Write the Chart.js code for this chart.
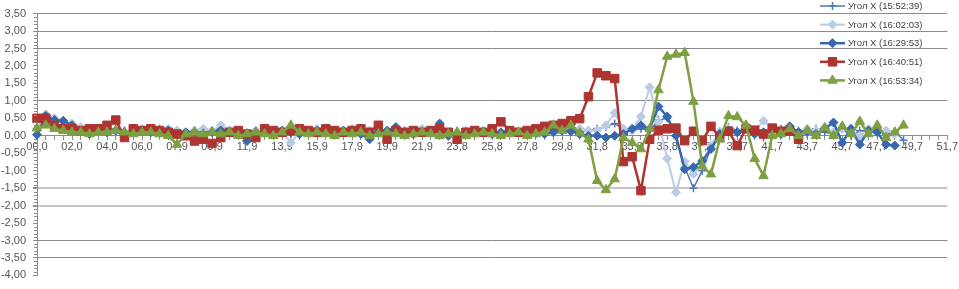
<!DOCTYPE html>
<html>
<head>
<meta charset="utf-8">
<script src="https://cdn.jsdelivr.net/npm/chart.js@4/dist/chart.umd.min.js"></script>
<style>
  body { margin: 0; background: #fff; }
  canvas { display: block; }
</style>
</head>
<body>
<canvas id="angleChart" width="959" height="289"></canvas>
<script>
// time stamps (s) of each sample, shown every 4th
const timeLabels = [
  '00,0','00,5','01,0','01,5','02,0','02,5','03,0','03,5','04,0','04,5',
  '05,0','05,5','06,0','06,4','06,9','07,4','07,9','08,4','08,9','09,4',
  '09,9','10,4','10,9','11,4','11,9','12,4','12,9','13,4','13,9','14,4',
  '14,9','15,4','15,9','16,4','16,9','17,4','17,9','18,4','18,9','19,4',
  '19,9','20,4','20,9','21,4','21,9','22,4','22,9','23,3','23,8','24,3',
  '24,8','25,3','25,8','26,3','26,8','27,3','27,8','28,3','28,8','29,3',
  '29,8','30,3','30,8','31,3','31,8','32,3','32,8','33,3','33,8','34,3',
  '34,8','35,3','35,8','36,2','36,7','37,2','37,7','38,2','38,7','39,2',
  '39,7','40,2','40,7','41,2','41,7','42,2','42,7','43,2','43,7','44,2',
  '44,7','45,2','45,7','46,2','46,7','47,2','47,7','48,2','48,7','49,2',
  '49,7','50,2','50,7','51,2','51,7'
];

const seriesNames = [
  'Угол X (15:52:39)',
  'Угол X (16:02:03)',
  'Угол X (16:29:53)',
  'Угол X (16:40:51)',
  'Угол X (16:53:34)'
];

const angle155239 = [
  0.15,0.35,0.3,0.3,0.25,0.2,0.15,0.15,0.2,0.2,
  0.15,0.1,0.15,0.15,0.2,0.15,0.1,0.1,0.15,0.1,
  0.15,0.2,0.15,0.1,0.05,0.1,0.15,0.1,0.1,0.05,
  0.15,0.1,0.15,0.1,0.15,0.1,0.1,0.15,0.05,0.15,
  0.1,0.1,0.15,0.1,0.1,0.15,0.1,0.05,0.0,0.1,
  0.05,0.1,0.1,0.05,0.1,0.1,0.15,0.05,0.1,0.1,
  0.15,0.15,0.1,0.15,0.2,0.25,0.35,0.2,0.15,0.2,
  0.15,0.45,0.5,0.0,-0.9,-1.5,-1.0,-0.35,0.0,0.25,
  0.15,0.2,0.05,-0.05,0.15,0.2,0.1,0.15,0.05,0.2,
  0.1,0.05,0.2,0.0,0.15,0.1,0.2,0.05,0.13,-0.13,
  null,null,null,null,null
];

const angle160203 = [
  0.2,0.62,0.5,0.4,0.35,0.25,0.2,0.15,0.2,0.15,
  0.1,0.15,0.2,0.15,0.1,0.2,0.15,0.1,0.15,0.2,
  0.15,0.3,0.15,0.1,0.05,0.15,0.2,0.1,0.15,-0.2,
  0.1,0.15,0.2,0.1,0.15,0.1,0.2,0.1,0.15,0.1,
  0.15,0.2,0.1,0.15,0.2,0.1,0.15,0.05,0.1,0.15,
  0.1,0.15,0.1,0.05,0.15,0.1,0.1,0.15,0.1,0.15,
  0.15,0.15,0.2,0.15,0.15,0.3,0.65,0.2,0.15,0.55,
  1.39,0.4,-0.65,-1.62,-0.74,-1.1,-0.8,-0.28,0.13,0.2,
  0.1,0.3,0.15,0.43,0.2,0.1,0.25,0.1,0.2,0.15,
  0.25,0.1,0.2,0.15,0.0,0.2,0.1,0.15,0.05,null,
  null,null,null,null,null
];

const angle162953 = [
  0.03,0.57,0.45,0.43,0.3,0.15,0.05,0.15,0.1,0.15,
  0.0,0.1,0.15,0.1,0.1,0.15,0.05,0.1,0.1,0.05,
  0.1,0.15,0.1,0.05,-0.15,0.1,0.1,0.05,0.15,0.1,
  0.05,0.1,0.15,0.1,0.05,0.15,0.1,0.05,-0.1,0.1,
  0.15,0.25,0.1,0.05,0.1,0.15,0.35,0.0,0.05,0.1,
  0.15,0.1,0.05,0.1,0.15,0.1,0.05,0.1,0.05,0.1,
  0.15,0.13,0.05,0.0,0.0,-0.05,0.0,0.05,0.2,0.3,
  0.2,0.84,0.55,0.0,-0.96,-0.9,-0.72,-0.38,0.05,0.15,
  0.1,0.2,0.05,0.1,0.15,0.05,0.27,0.1,0.13,0.05,
  0.2,0.38,-0.2,0.2,-0.25,0.15,0.1,-0.25,-0.28,null,
  null,null,null,null,null
];

const angle164051 = [
  0.5,0.5,0.3,0.2,0.2,0.15,0.2,0.2,0.3,0.45,
  -0.05,0.2,0.15,0.2,0.15,0.1,0.05,0.0,-0.15,-0.1,
  -0.22,-0.05,0.1,0.15,0.05,-0.05,0.2,0.15,0.1,0.15,
  0.2,0.15,0.1,0.2,0.15,0.1,0.15,0.2,0.1,0.3,
  -0.1,0.15,0.1,0.15,0.1,0.15,0.2,0.1,-0.1,0.1,
  0.15,0.1,0.2,0.4,0.15,0.1,0.15,0.2,0.27,0.3,
  0.35,0.43,0.49,1.12,1.8,1.72,1.64,-0.74,-0.6,-1.57,
  -0.1,0.16,0.2,0.22,-0.14,0.13,-0.14,0.27,-0.05,0.13,
  -0.28,0.2,0.16,0.05,0.22,0.13,0.13,-0.1,null,null,
  null,null,null,null,null,null,null,null,null,null,
  null,null,null,null,null
];

const angle165334 = [
  0.22,0.3,0.2,0.15,0.1,0.1,0.05,0.1,0.1,0.15,
  0.1,0.05,0.1,0.1,0.05,0.0,-0.25,0.05,0.1,0.05,
  0.1,0.05,0.1,0.0,0.05,0.1,0.05,0.0,0.1,0.3,
  0.1,0.05,0.1,0.05,0.0,0.1,0.05,0.1,0.0,0.05,
  0.1,0.05,0.0,0.05,0.1,0.05,0.0,0.05,0.1,0.0,
  0.05,0.1,0.05,0.0,0.05,0.1,0.0,0.05,0.1,0.3,
  0.15,0.3,0.08,-0.1,-1.29,-1.55,-1.24,-0.06,-0.2,-0.38,
  0.2,1.31,2.27,2.33,2.38,0.98,-0.87,-1.1,-0.1,0.57,
  0.54,0.3,-0.66,-1.15,0.0,0.05,0.2,0.0,0.15,0.0,
  0.22,0.0,0.27,0.05,0.41,0.05,0.3,-0.05,0.1,0.3,
  null,null,null,null,null
];

// gridlines that are visible in the original picture
const darkGridValues = [3.5, 3, 2.5, 1, -3, -3.5];
const lightGridValues = [-1.5, -2];

const textFont = { family: 'Liberation Sans', size: 11 };
const textColor = '#555555';
const axisColor = '#8c8c8c';

function makeSeries(label, data, color, style, radius, width, order) {
    return {
        label: label,
        data: data,
        borderColor: color,
        backgroundColor: color,
        pointBackgroundColor: color,
        pointBorderColor: color,
        pointStyle: style,
        pointRadius: radius,
        pointBorderWidth: style === 'cross' ? 1.5 : 1,
        borderWidth: width,
        tension: 0,
        clip: false,
        order: order,
    };
}

// small minor ticks on the value axis
const minorTicks = {
    id: 'minorTicks',
    afterDraw(chart) {
        const c = chart.ctx;
        const y = chart.scales.y;
        const left = chart.chartArea.left;
        c.save();
        c.strokeStyle = axisColor;
        c.lineWidth = 1;
        c.beginPath();
        for (let k = -40; k <= 35; k++) {
            if (k % 5 === 0) continue;
            const py = Math.round(y.getPixelForValue(k / 10)) + 0.5;
            c.moveTo(left - 3, py);
            c.lineTo(left, py);
        }
        c.stroke();
        c.restore();
    }
};

// legend drawn inside the plot, top right
const cornerLegend = {
    id: 'cornerLegend',
    afterDraw(chart) {
        const c = chart.ctx;
        const x0 = 820, x1 = 845, tx = 848;
        chart.data.datasets.forEach((ds, k) => {
            const y = 6 + k * 18.6;
            c.save();
            c.strokeStyle = ds.borderColor;
            c.fillStyle = ds.borderColor;
            c.lineWidth = ds.borderWidth;
            c.beginPath();
            c.moveTo(x0, y);
            c.lineTo(x1, y);
            c.stroke();
            if (Chart.helpers && Chart.helpers.drawPoint) {
                c.lineWidth = ds.pointBorderWidth;
                Chart.helpers.drawPoint(c, {
                    pointStyle: ds.pointStyle,
                    radius: ds.pointRadius,
                    borderWidth: ds.pointBorderWidth,
                    rotation: 0
                }, (x0 + x1) / 2, y);
            }
            c.fillStyle = '#404040';
            c.font = '9.5px "Liberation Sans"';
            c.textBaseline = 'middle';
            c.textAlign = 'left';
            c.fillText(ds.label, tx, y + 0.5);
            c.restore();
        });
    }
};

const ctx = document.getElementById('angleChart').getContext('2d');
const angleChart = new Chart(ctx, {
    type: 'line',
    data: {
        labels: timeLabels,
        datasets: [
            makeSeries(seriesNames[0], angle155239, '#5377b0', 'cross', 4, 1.5, 5),
            makeSeries(seriesNames[1], angle160203, '#b9cce4', 'rectRot', 4.5, 2, 4),
            makeSeries(seriesNames[2], angle162953, '#3767ad', 'rectRot', 4.5, 2.5, 3),
            makeSeries(seriesNames[3], angle164051, '#ae3430', 'rect', 6, 2.5, 2),
            makeSeries(seriesNames[4], angle165334, '#7da041', 'triangle', 5.5, 2.5, 1),
        ],
    },
    options: {
        responsive: false,
        animation: false,
        layout: { padding: { top: 10, right: 9, bottom: 5, left: 0 } },
        plugins: {
            legend: { display: false },
            tooltip: { enabled: false },
        },
        scales: {
            x: {
                position: { y: 0 },
                afterFit: scale => { scale.height = 0; },
                grid: { drawOnChartArea: false, drawTicks: true, tickLength: 4, color: axisColor },
                border: { color: axisColor, width: 1 },
                ticks: {
                    autoSkip: false,
                    maxRotation: 0,
                    minRotation: 0,
                    padding: 1,
                    font: textFont,
                    color: textColor,
                    callback: (value, index) => index % 4 === 0 ? timeLabels[index] : '',
                },
            },
            y: {
                min: -4,
                max: 3.5,
                afterFit: scale => { scale.width = 37; },
                grid: {
                    drawTicks: true,
                    tickLength: 4,
                    tickColor: axisColor,
                    color: c => {
                        const v = c.tick ? c.tick.value : null;
                        if (darkGridValues.includes(v)) return '#8a8a8a';
                        if (lightGridValues.includes(v)) return '#c6c6c6';
                        return 'rgba(0,0,0,0)';
                    },
                    lineWidth: c => (c.tick && lightGridValues.includes(c.tick.value)) ? 2 : 1,
                },
                border: { color: axisColor, width: 1 },
                ticks: {
                    stepSize: 0.5,
                    padding: 7,
                    font: textFont,
                    color: textColor,
                    callback: v => v.toFixed(2).replace('.', ','),
                },
            },
        },
    },
    plugins: [minorTicks, cornerLegend],
});
</script>
</body>
</html>
